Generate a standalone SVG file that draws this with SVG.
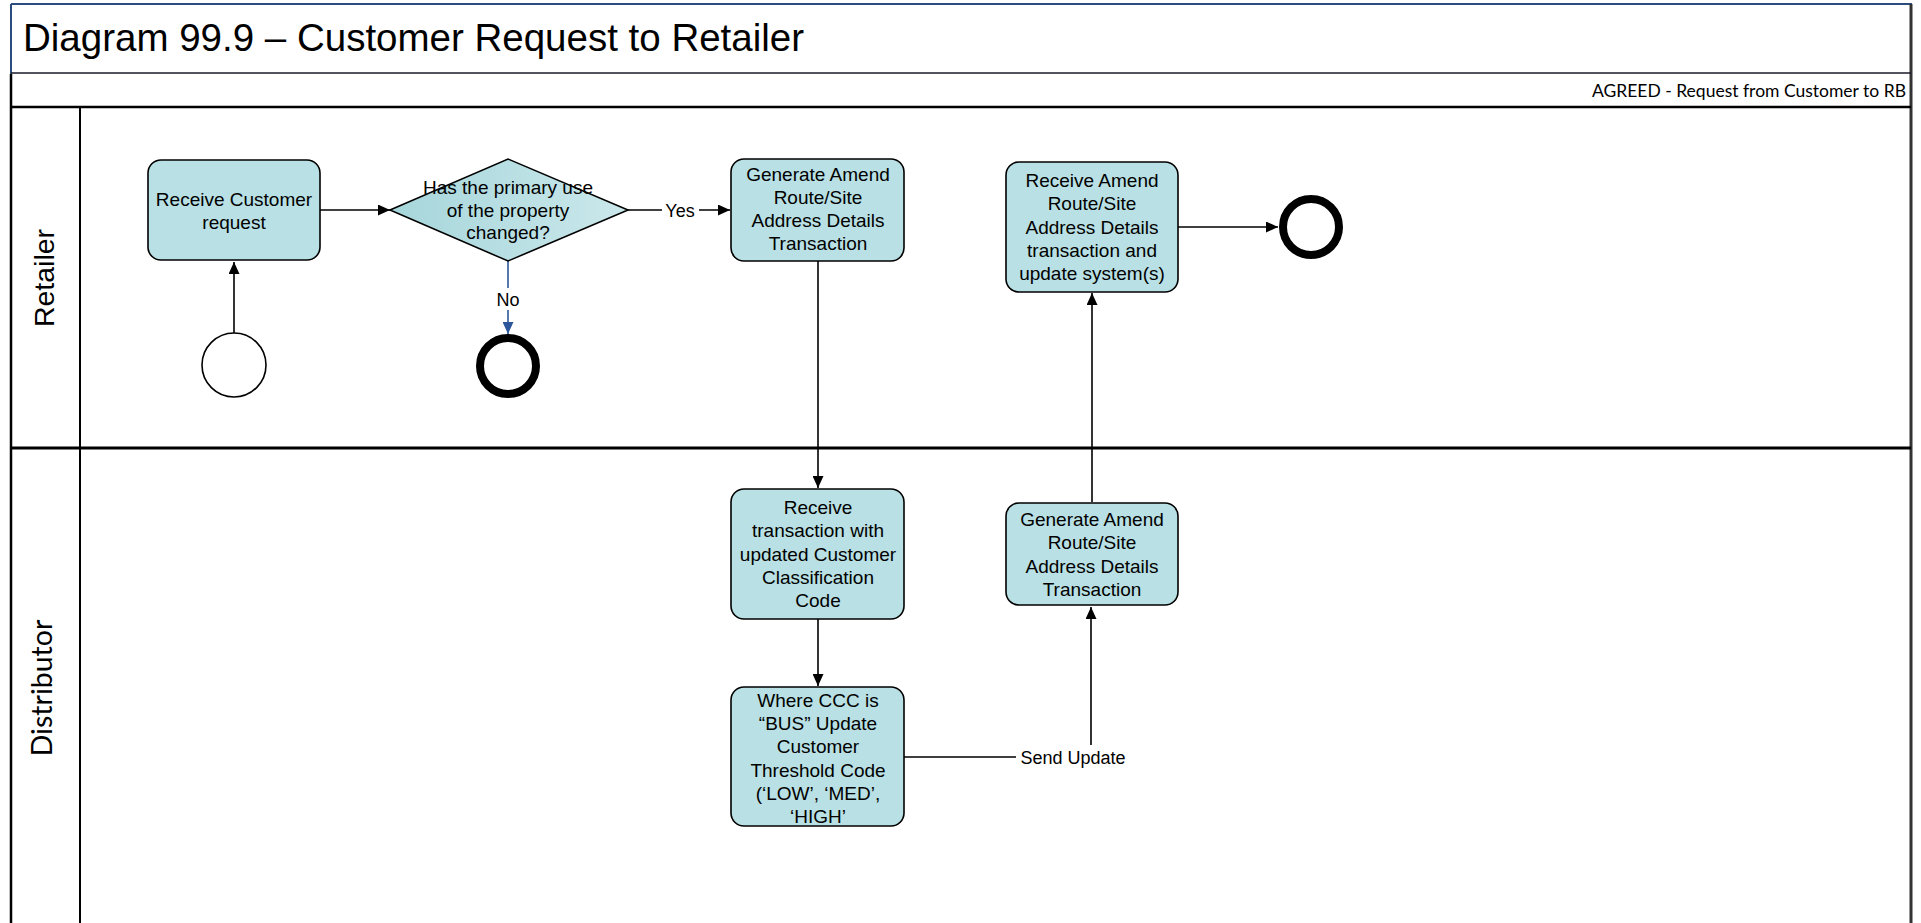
<svg xmlns="http://www.w3.org/2000/svg" width="1921" height="923" viewBox="0 0 1921 923">
<style>
.box{fill:#b9e0e4;stroke:#000;stroke-width:1.6}
.t{font-family:"Liberation Sans",Arial,sans-serif;font-size:19px;fill:#000;text-anchor:middle}
.lbl{font-family:"Liberation Sans",Arial,sans-serif;font-size:18px;fill:#000;text-anchor:middle}
.conn{fill:none;stroke:#000;stroke-width:1.6}
.start{fill:#fff;stroke:#000;stroke-width:1.6}
.end{fill:#fff;stroke:#000;stroke-width:8}
</style>
<defs>
<marker id="arr" markerUnits="userSpaceOnUse" markerWidth="13" markerHeight="11" refX="12" refY="5.5" orient="auto">
<path d="M0,0 L12,5.5 L0,11 z" fill="#000"/>
</marker>
<marker id="arrBlue" markerUnits="userSpaceOnUse" markerWidth="13" markerHeight="11" refX="12" refY="5.5" orient="auto">
<path d="M0,0 L12,5.5 L0,11 z" fill="#2b579a"/>
</marker>
<linearGradient id="dg" x1="0" y1="0" x2="1" y2="0">
<stop offset="0" stop-color="#a6d6db"/>
<stop offset="1" stop-color="#cbe8eb"/>
</linearGradient>
</defs>
<rect x="0" y="0" width="1921" height="923" fill="#fff"/>

<g id="frame">
<line x1="11" y1="4" x2="1912" y2="4" stroke="#2b4c7e" stroke-width="2"/>
<line x1="11" y1="4" x2="11" y2="74" stroke="#2b4c7e" stroke-width="2"/>
<line x1="11" y1="74" x2="11" y2="930" stroke="#000" stroke-width="2.5"/>
<line x1="1911" y1="4" x2="1911" y2="930" stroke="#333" stroke-width="3"/>
<line x1="11" y1="73" x2="1911" y2="73" stroke="#1a1a2a" stroke-width="1.5"/>
<line x1="11" y1="107" x2="1911" y2="107" stroke="#000" stroke-width="2.5"/>
<line x1="80" y1="107" x2="80" y2="930" stroke="#000" stroke-width="2"/>
<line x1="11" y1="448" x2="1911" y2="448" stroke="#000" stroke-width="3"/>
<text x="23" y="51" font-family="'Liberation Sans',Arial,sans-serif" font-size="38.5" fill="#000">Diagram 99.9 – Customer Request to Retailer</text>
<text x="1906" y="97" font-family="Lato,'Liberation Sans',sans-serif" font-size="17.5" font-weight="400" fill="#000" text-anchor="end">AGREED - Request from Customer to RB</text>
</g>

<g id="lane-retailer">
<text x="0" y="0" transform="translate(54,278) rotate(-90)" font-family="'Liberation Sans',Arial,sans-serif" font-size="28.5" fill="#000" text-anchor="middle">Retailer</text>
</g>
<g id="lane-distributor">
<text x="0" y="0" transform="translate(52,688) rotate(-90)" font-family="Lato,'Liberation Sans',sans-serif" font-size="28.5" fill="#000" text-anchor="middle">Distributor</text>
</g>

<g id="connectors">
<path class="conn" d="M234,333 V262" marker-end="url(#arr)"/>
<path class="conn" d="M320,210 H390" marker-end="url(#arr)"/>
<path class="conn" d="M628,210 H730" marker-end="url(#arr)"/>
<rect x="662" y="199" width="37" height="22" fill="#fff"/>
<text class="lbl" x="680" y="216.5">Yes</text>
<path d="M508,261 V334" fill="none" stroke="#2b579a" stroke-width="1.6" marker-end="url(#arrBlue)"/>
<rect x="494" y="288" width="28" height="22" fill="#fff"/>
<text class="lbl" x="508" y="305.5">No</text>
<path class="conn" d="M818,261 V488" marker-end="url(#arr)"/>
<path class="conn" d="M818,619 V686" marker-end="url(#arr)"/>
<path class="conn" d="M904,757 H1091 V607" marker-end="url(#arr)"/>
<rect x="1016" y="745" width="115" height="24" fill="#fff"/>
<text class="lbl" x="1073" y="763.5">Send Update</text>
<path class="conn" d="M1092,502 V293" marker-end="url(#arr)"/>
<path class="conn" d="M1178,227 H1278" marker-end="url(#arr)"/>
</g>

<g id="start">
<circle class="start" cx="234" cy="365" r="32"/>
</g>

<g id="receive-customer-request">
<rect class="box" x="148" y="160" width="172" height="100" rx="13"/>
<text class="t" x="234" y="206">Receive Customer</text>
<text class="t" x="234" y="229">request</text>
</g>

<g id="decision">
<polygon points="390,210 508,159 628,210 508,261" fill="url(#dg)" stroke="#000" stroke-width="1.6"/>
<text class="t" x="508" y="194">Has the primary use</text>
<text class="t" x="508" y="216.5">of the property</text>
<text class="t" x="508" y="239">changed?</text>
</g>

<g id="end-no">
<circle class="end" cx="508" cy="366" r="28"/>
</g>

<g id="generate-retailer">
<rect class="box" x="731" y="159" width="173" height="102" rx="13"/>
<text class="t" x="818" y="181">Generate Amend</text>
<text class="t" x="818" y="204">Route/Site</text>
<text class="t" x="818" y="227">Address Details</text>
<text class="t" x="818" y="250">Transaction</text>
</g>

<g id="receive-amend">
<rect class="box" x="1006" y="162" width="172" height="130" rx="13"/>
<text class="t" x="1092" y="187">Receive  Amend</text>
<text class="t" x="1092" y="210">Route/Site</text>
<text class="t" x="1092" y="233.5">Address Details</text>
<text class="t" x="1092" y="257">transaction and</text>
<text class="t" x="1092" y="280">update system(s)</text>
</g>

<g id="end-final">
<circle class="end" cx="1311" cy="227" r="28"/>
</g>

<g id="receive-transaction">
<rect class="box" x="731" y="489" width="173" height="130" rx="13"/>
<text class="t" x="818" y="514">Receive</text>
<text class="t" x="818" y="537">transaction with</text>
<text class="t" x="818" y="560.5">updated Customer</text>
<text class="t" x="818" y="584">Classification</text>
<text class="t" x="818" y="607">Code</text>
</g>

<g id="generate-distributor">
<rect class="box" x="1006" y="503" width="172" height="102" rx="13"/>
<text class="t" x="1092" y="526">Generate Amend</text>
<text class="t" x="1092" y="549">Route/Site</text>
<text class="t" x="1092" y="572.5">Address Details</text>
<text class="t" x="1092" y="596">Transaction</text>
</g>

<g id="update-threshold">
<rect class="box" x="731" y="687" width="173" height="139" rx="13"/>
<text class="t" x="818" y="707">Where CCC is</text>
<text class="t" x="818" y="730">“BUS” Update</text>
<text class="t" x="818" y="753">Customer</text>
<text class="t" x="818" y="776.5">Threshold Code</text>
<text class="t" x="818" y="800">(‘LOW’, ‘MED’,</text>
<text class="t" x="818" y="823">‘HIGH’</text>
</g>
</svg>
